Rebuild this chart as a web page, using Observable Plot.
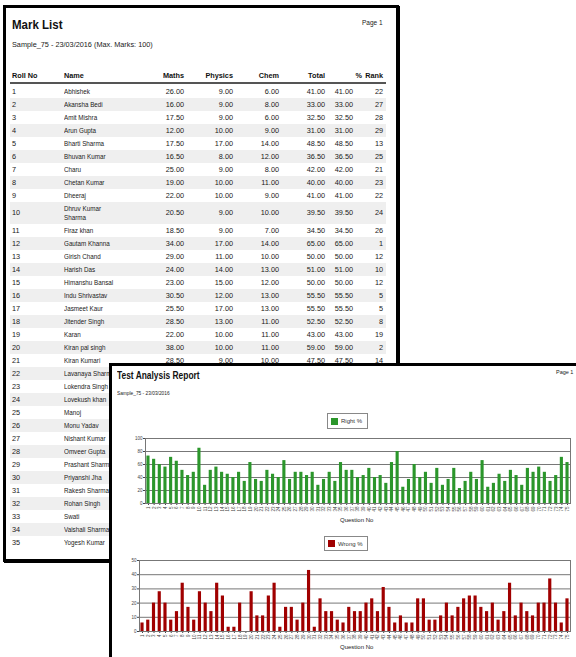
<!DOCTYPE html>
<html><head><meta charset="utf-8">
<script src="https://cdn.jsdelivr.net/npm/d3@7"></script>
<script src="https://cdn.jsdelivr.net/npm/@observablehq/plot@0.6"></script>
<style>
html,body{margin:0;padding:0;background:#fff;}
body{width:576px;height:657px;overflow:hidden;position:relative;font-family:"Liberation Sans",Arial,sans-serif;color:#1a1a1a;}
.abs{position:absolute;white-space:nowrap;}
.layer{position:absolute;left:0;top:0;width:576px;height:657px;}
.narrow{transform:scaleX(0.8);transform-origin:0 50%;}
.name{transform:scaleX(0.86);transform-origin:0 50%;}
.wide{transform:scaleX(0.92);transform-origin:0 50%;}
.legend{position:absolute;border:1px solid #888;background:#fff;box-sizing:border-box;font-size:6px;display:flex;align-items:center;padding-left:3px;color:#333;}
.legend span.sw{display:inline-block;width:7px;height:7px;margin-right:3px;}
</style></head><body>
<div class="layer" id="p1"></div>
<div class="layer" id="p2" style="z-index:2"></div>
<script>
// ---------- Mark List data ----------
const headers = ["Roll No", "Name", "Maths", "Physics", "Chem", "Total", "%", "Rank"];
const rollNos = [1,2,3,4,5,6,7,8,9,10,11,12,13,14,15,16,17,18,19,20,21,22,23,24,25,26,27,28,29,30,31,32,33,34,35];
const names = ["Abhishek","Akansha Bedi","Amit Mishra","Arun Gupta","Bharti Sharma","Bhuvan Kumar","Charu","Chetan Kumar","Dheeraj","Dhruv Kumar Sharma","Firaz khan","Gautam Khanna","Girish Chand","Harish Das","Himanshu Bansal","Indu Shrivastav","Jasmeet Kaur","Jitender Singh","Karan","Kiran pal singh","Kiran Kumari","Lavanaya Sharma","Lokendra Singh","Lovekush khan","Manoj","Monu Yadav","Nishant Kumar","Omveer Gupta","Prashant Sharma","Priyanshi Jha","Rakesh Sharma","Rohan Singh","Swati","Vaishali Sharma","Yogesh Kumar"];
const maths   = [26.00,16.00,17.50,12.00,17.50,16.50,25.00,19.00,22.00,20.50,18.50,34.00,29.00,24.00,23.00,30.50,25.50,28.50,22.00,38.00,28.50];
const physics = [9.00,9.00,9.00,10.00,17.00,8.00,9.00,10.00,10.00,9.00,9.00,17.00,11.00,14.00,15.00,12.00,17.00,13.00,10.00,10.00,9.00];
const chem    = [6.00,8.00,6.00,9.00,14.00,12.00,8.00,11.00,9.00,10.00,7.00,14.00,10.00,13.00,12.00,13.00,13.00,11.00,11.00,11.00,10.00];
const totals  = [41.00,33.00,32.50,31.00,48.50,36.50,42.00,40.00,41.00,39.50,34.50,65.00,50.00,51.00,50.00,55.50,55.50,52.50,43.00,59.00,47.50];
const percents= [41.00,33.00,32.50,31.00,48.50,36.50,42.00,40.00,41.00,39.50,34.50,65.00,50.00,51.00,50.00,55.50,55.50,52.50,43.00,59.00,47.50];
const ranks   = [22,27,28,29,13,25,21,23,22,24,26,1,12,10,12,5,5,8,19,2,14];

// ---------- Test Analysis data ----------
const questions = d3.range(1, 76);
const rightPct = [73,68,60,56,71,65,51,43,48,85,28,51,56,48,45,40,48,34,63,37,34,51,45,40,66,37,48,48,43,48,28,37,48,34,63,51,51,40,43,54,40,43,31,63,80,25,37,60,40,48,31,54,28,37,54,23,34,48,37,66,25,31,45,34,51,43,28,54,48,56,48,34,43,71,63];
const wrongPct = [6,8,20,28,20,8,14,34,17,8,28,20,14,34,25,3,3,20,0,28,11,11,25,34,3,17,17,8,20,43,3,23,14,14,8,6,17,14,14,20,23,14,31,17,6,11,6,6,23,23,8,8,11,20,11,17,23,25,25,17,14,20,8,14,34,11,20,14,11,20,20,37,20,6,23];
const rightTicks = [0,20,40,60,80,100];
const wrongTicks = [0,10,20,30,40,50];

function el(parent, html, style, cls) {
  const d = document.createElement("div");
  d.className = "abs" + (cls ? " " + cls : "");
  d.innerHTML = html;
  Object.assign(d.style, style);
  parent.appendChild(d);
  return d;
}
const fmt = v => v.toFixed(2);

// ---------- Panel 1: Mark List ----------
const p1 = document.getElementById("p1");
el(p1, "", {left:"3px", top:"5px", width:"390px", height:"551px", border:"3px solid #000", boxShadow:"1px 1px 0 #000"});
el(p1, "Mark List", {left:"12px", top:"18px", fontSize:"12.5px", fontWeight:"bold", color:"#111"}, "wide");
el(p1, "Page 1", {left:"362px", top:"19px", fontSize:"6.5px"});
el(p1, "Sample_75 - 23/03/2016 (Max. Marks: 100)", {left:"12px", top:"40px", fontSize:"7.3px"});

const cols = [[12,"left"],[64,"left"],[184,"right"],[233,"right"],[279,"right"],[325,"right"],[353,"right"],[383,"right"]];
const headerRight = [null,null,184,233,279,325,362,383];
function cell(parent, text, x, align, y, h, extra) {
  const st = {top: y + "px", height: h + "px", lineHeight: h + "px", fontSize:"7.3px"};
  if (align === "left") st.left = x + "px"; else { st.right = (576 - x) + "px"; st.textAlign = "right"; }
  Object.assign(st, extra || {});
  return el(parent, text, st);
}
headers.forEach((t, i) => {
  const x = headerRight[i] ?? cols[i][0];
  cell(p1, t, x, cols[i][1], 70.5, 10, {fontWeight:"bold", color:"#111"});
});
el(p1, "", {left:"10px", top:"82px", width:"376px", height:"2px", background:"#555"});

let rowTop = 84.5;
rollNos.forEach((r, i) => {
  const h = names[i] === "Dhruv Kumar Sharma" ? 22 : 13;
  if (i % 2 === 1) el(p1, "", {left:"10px", top: rowTop + "px", width:"376px", height: h + "px", background:"#efefef"});
  cell(p1, String(r), 12, "left", rowTop, h);
  if (h > 13) {
    el(p1, "Dhruv Kumar<br>Sharma", {left:"64px", top:(rowTop + 2) + "px", fontSize:"7.3px", lineHeight:"9px", whiteSpace:"normal"}, "name");
  } else {
    cell(p1, names[i], 64, "left", rowTop, h).classList.add("name");
  }
  if (i < maths.length) {
    cell(p1, fmt(maths[i]), 184, "right", rowTop, h);
    cell(p1, fmt(physics[i]), 233, "right", rowTop, h);
    cell(p1, fmt(chem[i]), 279, "right", rowTop, h);
    cell(p1, fmt(totals[i]), 325, "right", rowTop, h);
    cell(p1, fmt(percents[i]), 353, "right", rowTop, h);
    cell(p1, String(ranks[i]), 383, "right", rowTop, h);
  }
  rowTop += h;
});

// ---------- Panel 2: Test Analysis Report ----------
const p2 = document.getElementById("p2");
el(p2, "", {left:"109px", top:"363px", width:"480px", height:"310px", border:"3px solid #000", background:"#fff"});
el(p2, "Test Analysis Report", {left:"117px", top:"369px", fontSize:"10.5px", fontWeight:"bold", color:"#111"}, "narrow");
el(p2, "Page 1", {left:"556px", top:"369px", fontSize:"5.5px"});
el(p2, "Sample_75 - 23/03/2016", {left:"117px", top:"390px", fontSize:"6px"}, "narrow");

el(p2, '<span class="sw" style="background:#2b962b"></span>Right %', {left:"327px", top:"413px", width:"41px", height:"16px"}, "legend");
el(p2, '<span class="sw" style="background:#a00000"></span>Wrong %', {left:"324px", top:"536px", width:"44px", height:"15px"}, "legend");
el(p2, "Question No", {left:"340px", top:"517px", fontSize:"6px"});
el(p2, "Question No", {left:"340px", top:"644px", fontSize:"6px"});

function chart(values, ticks, maxY, color, opts) {
  const data = questions.map((q, i) => ({q, v: values[i]}));
  return Plot.plot({
    width: 456, height: opts.height,
    marginLeft: opts.ml, marginRight: 6, marginTop: opts.mt, marginBottom: opts.mb,
    style: {fontSize: "4.5px", fontFamily: "Liberation Sans, Arial, sans-serif", color: "#444", background: "transparent", overflow: "visible"},
    x: {type: "band", domain: questions, padding: 0.45, paddingOuter: 0.25, label: null, tickRotate: -90, tickSize: 2, tickPadding: 1},
    y: {domain: [0, maxY], ticks: ticks, label: null, tickSize: 2, tickPadding: 1},
    marks: [
      Plot.ruleY(ticks, {stroke: "#777", strokeWidth: 1}),
      Plot.barY(data, {x: "q", y: "v", fill: color}),
      Plot.frame({stroke: "#777"})
    ]
  });
}
const c1 = chart(rightPct, rightTicks, 100, "#2b962b", {height: 91, ml: 25, mt: 6, mb: 20});
const c2 = chart(wrongPct, wrongTicks, 50, "#a00000", {height: 94, ml: 19, mt: 7, mb: 16});
const w1 = el(p2, "", {left:"120px", top:"432px"}); w1.appendChild(c1);
const w2 = el(p2, "", {left:"120px", top:"553px"}); w2.appendChild(c2);
</script>
</body></html>
